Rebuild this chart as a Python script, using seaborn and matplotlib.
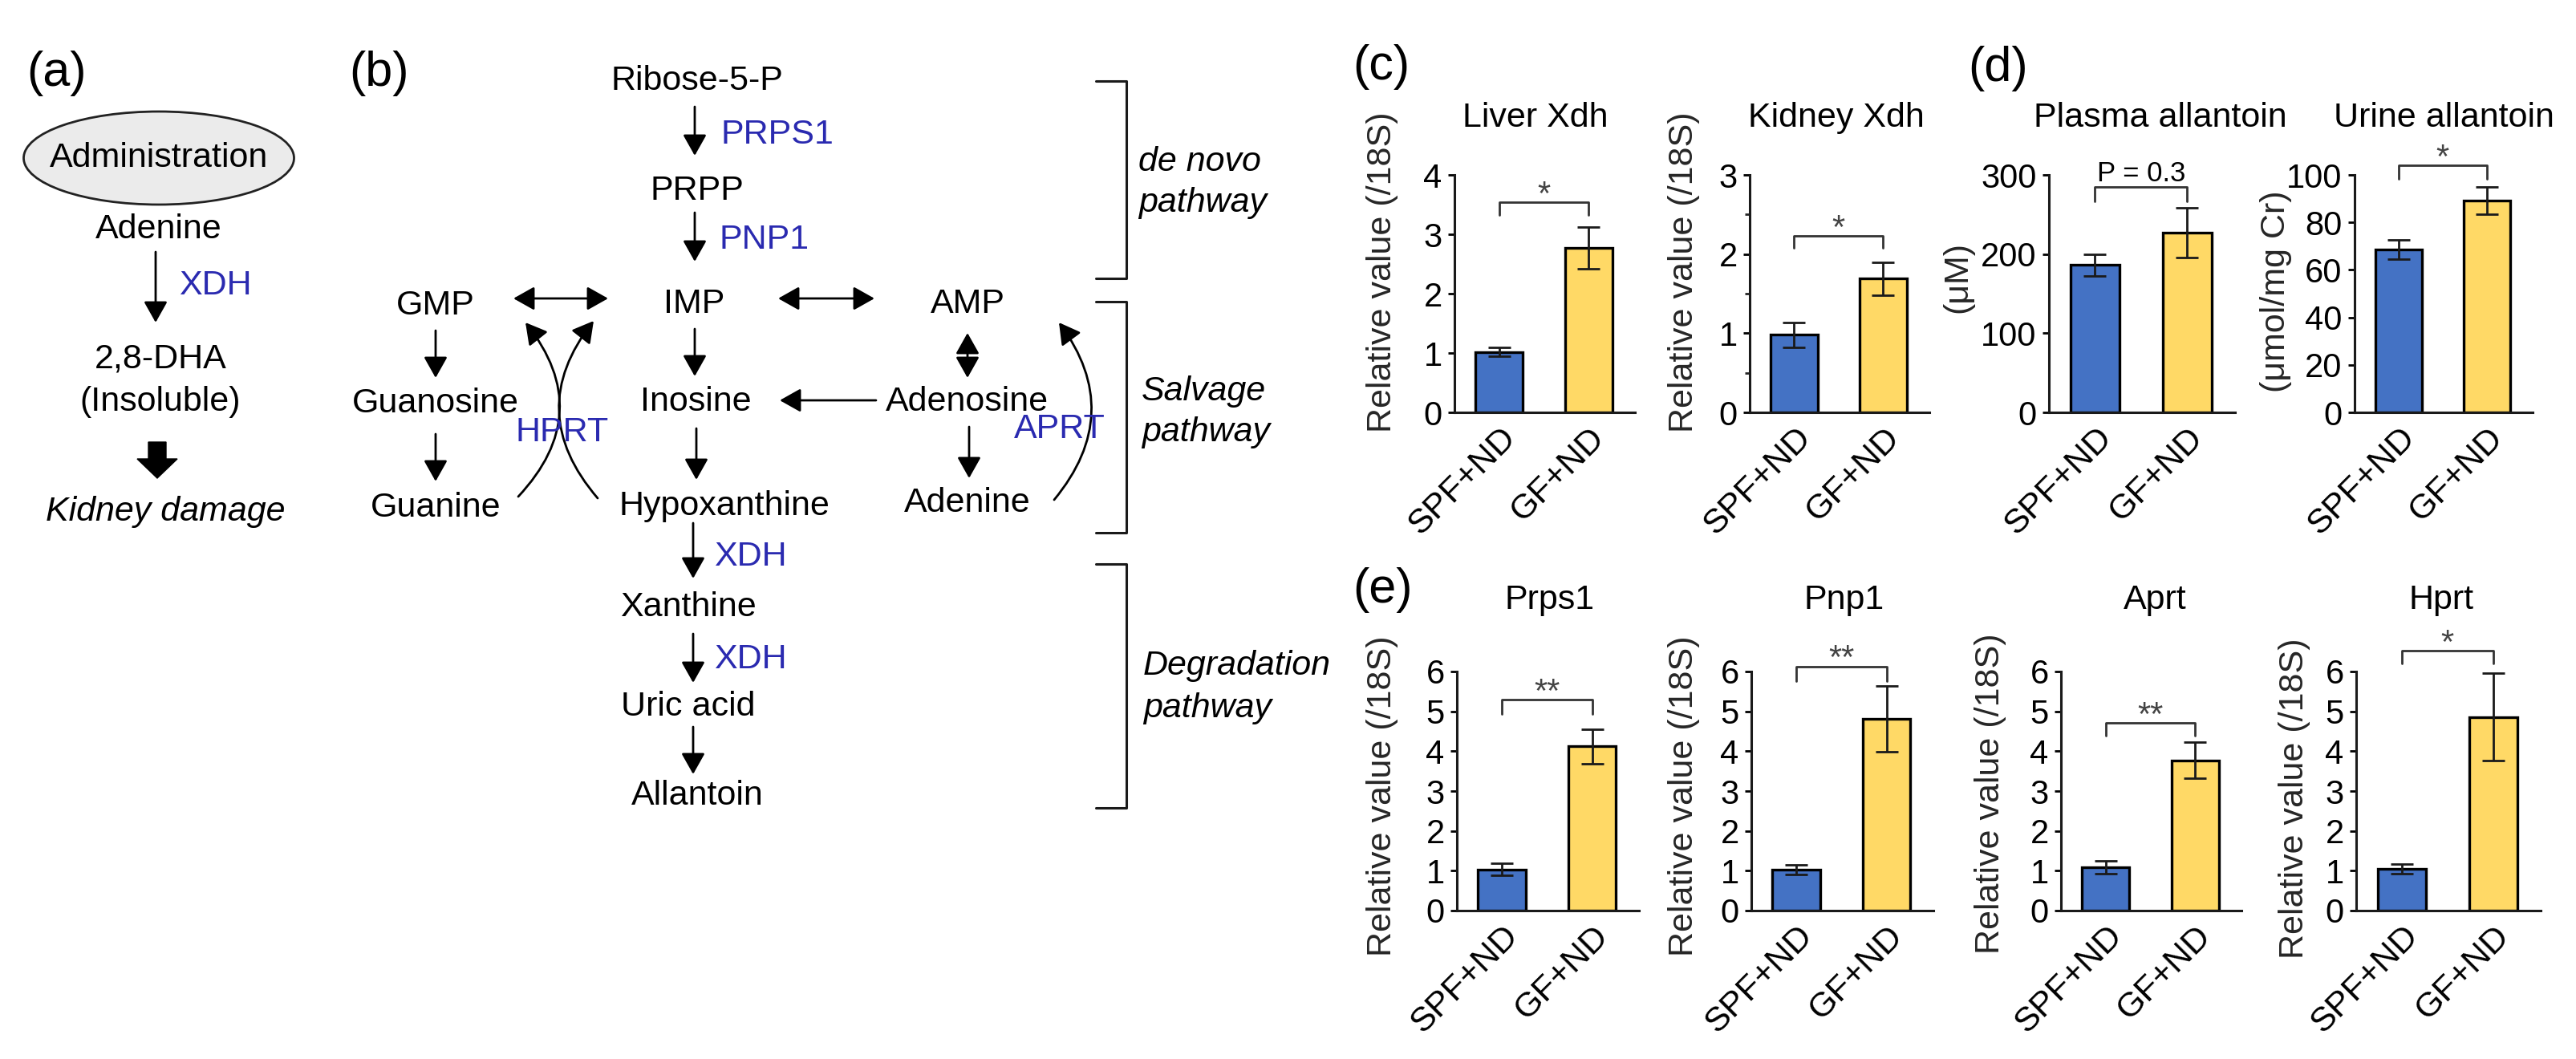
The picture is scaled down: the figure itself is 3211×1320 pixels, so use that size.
import matplotlib
matplotlib.use("Agg")
import matplotlib.pyplot as plt
import seaborn as sns
from matplotlib.patches import Ellipse, FancyArrowPatch, FancyArrow
from matplotlib.ticker import MultipleLocator

# ---- data (mean, SEM) ----
groups = ["SPF+ND", "GF+ND"]
bar_colors = ["#4472C4", "#FFD966"]

liver_xdh_mean = [1.02, 2.77]
liver_xdh_sem = [0.07, 0.35]
kidney_xdh_mean = [0.98, 1.69]
kidney_xdh_sem = [0.16, 0.21]

plasma_allantoin_mean = [186, 227]
plasma_allantoin_sem = [14, 31]
urine_allantoin_mean = [68.5, 89.3]
urine_allantoin_sem = [4.0, 5.7]

prps1_mean = [1.03, 4.12]
prps1_sem = [0.15, 0.43]
pnp1_mean = [1.03, 4.81]
pnp1_sem = [0.12, 0.82]
aprt_mean = [1.08, 3.77]
aprt_sem = [0.16, 0.45]
hprt_mean = [1.04, 4.86]
hprt_sem = [0.12, 1.10]

W, H = 3212, 1320
sns.set_theme(style="ticks")
plt.rcParams["font.family"] = ["Liberation Sans", "DejaVu Sans"]
plt.rcParams["text.color"] = "black"
plt.rcParams["axes.edgecolor"] = "#1a1a1a"

fig = plt.figure(figsize=(W / 100, H / 100), dpi=100)

# ---------------- diagrams (a) and (b), drawn in pixel coordinates ----------------
dg = fig.add_axes([0, 0, 1, 1])
dg.set_xlim(0, W)
dg.set_ylim(H, 0)
dg.axis("off")

FS = 31
BLUE = "#2A2AB0"


def label(x, y, s, ha="center", color="black", style="normal", size=FS):
    dg.text(x, y, s, ha=ha, va="center", color=color, fontsize=size, fontstyle=style)


def arrow(x0, y0, x1, y1, style="-|>", rad=0.0):
    dg.add_patch(FancyArrowPatch(
        (x0, y0), (x1, y1),
        arrowstyle=f"{style},head_length=0.8,head_width=0.45",
        mutation_scale=20, connectionstyle=f"arc3,rad={rad}",
        lw=2, color="black", shrinkA=0, shrinkB=0))


# (a)
dg.add_patch(Ellipse((198, 197), 337, 116, facecolor="#EBEBEB", edgecolor="#222222", lw=2))
label(198, 197, "Administration")
label(198, 286, "Adenine")
arrow(194, 314, 194, 402)
label(223, 356, "XDH", ha="left", color=BLUE)
label(200, 448, "2,8-DHA")
label(200, 501, "(Insoluble)")
dg.add_patch(FancyArrow(196, 551, 0, 45, width=22, head_width=50, head_length=24,
                        length_includes_head=True, color="black"))
label(206, 638, "Kidney damage", style="italic")

# (b)
label(869, 101, "Ribose-5-P")
arrow(866, 133, 866, 194)
label(899, 168, "PRPS1", ha="left", color=BLUE)
label(869, 238, "PRPP")
arrow(866, 265, 866, 326)
label(897, 299, "PNP1", ha="left", color=BLUE)
label(865, 379, "IMP")
label(543, 381, "GMP")
label(1206, 379, "AMP")
arrow(640, 372, 758, 372, style="<|-|>")
arrow(970, 372, 1090, 372, style="<|-|>")
arrow(543, 412, 543, 471)
label(543, 503, "Guanosine")
arrow(543, 541, 543, 600)
label(543, 633, "Guanine")
arrow(866, 410, 866, 469)
label(867, 501, "Inosine")
arrow(1092, 499, 972, 499)
label(1205, 501, "Adenosine")
arrow(1206, 415, 1206, 471, style="<|-|>")
arrow(1208, 532, 1208, 596)
label(1206, 627, "Adenine")
label(903, 631, "Hypoxanthine")
arrow(868, 534, 868, 598)
arrow(646, 619, 655, 402, rad=0.43)
arrow(745, 621, 740, 400, rad=-0.41)
label(701, 539, "HPRT", color=BLUE)
arrow(1314, 623, 1320, 402, rad=0.39)
label(1321, 535, "APRT", color=BLUE)
arrow(864, 652, 864, 721)
label(890, 694, "XDH", ha="left", color=BLUE)
label(858, 757, "Xanthine")
arrow(864, 790, 864, 851)
label(890, 822, "XDH", ha="left", color=BLUE)
label(858, 881, "Uric acid")
arrow(864, 906, 864, 965)
label(869, 992, "Allantoin")

for top, bottom in [(101, 347), (376, 664), (703, 1007)]:
    dg.plot([1366, 1404, 1404, 1366], [top, top, bottom, bottom], color="#1a1a1a", lw=2.2)
label(1419, 202, "de novo", ha="left", style="italic")
label(1419, 253, "pathway", ha="left", style="italic")
label(1423, 488, "Salvage", ha="left", style="italic")
label(1423, 539, "pathway", ha="left", style="italic")
label(1425, 830, "Degradation", ha="left", style="italic")
label(1425, 883, "pathway", ha="left", style="italic")

for s, x, y in [("(a)", 71, 91), ("(b)", 473, 91), ("(c)", 1722, 84),
                ("(d)", 2491, 85), ("(e)", 1724, 735)]:
    label(x, y, s, size=44)

# ---------------- bar charts (c), (d), (e) ----------------
rel = "Relative value (/18S)"
panels = [
    # title, mean, sem, ylabel, ymax, ystep, pixel box, title x, ylabel pos, bracket, mark
    ("Liver Xdh", liver_xdh_mean, liver_xdh_sem, rel, 4, 1, (1813, 2038, 218, 514), 0.45, (-0.40, 0.59), (3.54, 3.33), "*"),
    ("Kidney Xdh", kidney_xdh_mean, kidney_xdh_sem, rel, 3, 1, (2181, 2405, 218, 514), 0.48, (-0.366, 0.59), (2.23, 2.08), "*"),
    ("Plasma allantoin", plasma_allantoin_mean, plasma_allantoin_sem, "(μM)", 300, 100, (2554, 2786, 218, 514), 0.60, (-0.49, 0.57), (285, 267), "P = 0.3"),
    ("Urine allantoin", urine_allantoin_mean, urine_allantoin_sem, "(μmol/mg Cr)", 100, 20, (2935, 3157, 218, 514), 0.50, (-0.44, 0.51), (103.9, 98.2), "*"),
    ("Prps1", prps1_mean, prps1_sem, rel, 6, 1, (1816, 2043, 837, 1135), 0.51, (-0.41, 0.48), (5.30, 4.93), "**"),
    ("Pnp1", pnp1_mean, pnp1_sem, rel, 6, 1, (2183, 2410, 837, 1135), 0.51, (-0.37, 0.48), (6.13, 5.75), "**"),
    ("Aprt", aprt_mean, aprt_sem, rel, 6, 1, (2569, 2794, 837, 1135), 0.52, (-0.39, 0.49), (4.71, 4.38), "**"),
    ("Hprt", hprt_mean, hprt_sem, rel, 6, 1, (2937, 3167, 837, 1135), 0.46, (-0.335, 0.47), (6.52, 6.2), "*"),
]

for title, mean, sem, ylab, ymax, ystep, (x0, x1, y0, y1), tx, (lx, ly), (bh, bl), mark in panels:
    ax = fig.add_axes([x0 / W, 1 - y1 / H, (x1 - x0) / W, (y1 - y0) / H])
    sns.barplot(x=groups, y=mean, hue=groups, palette=bar_colors, dodge=False, width=0.53,
                saturation=1, edgecolor="black", linewidth=2.4, legend=False,
                errorbar=None, ax=ax)
    ax.errorbar([0, 1], mean, yerr=sem, fmt="none", ecolor="#1a1a1a",
                elinewidth=2, capsize=10, capthick=2, zorder=5)
    sns.despine(ax=ax)
    ax.set_xlim(-0.5, 1.52)
    ax.set_ylim(0, ymax)
    ax.yaxis.set_major_locator(MultipleLocator(ystep))
    if title == "Kidney Xdh":
        ax.yaxis.set_minor_locator(MultipleLocator(0.5))
        ax.tick_params(axis="y", which="minor", length=4, width=2)
    for side in ["left", "bottom"]:
        ax.spines[side].set_linewidth(2.2)
    ax.tick_params(axis="y", length=6, width=2, labelsize=30, pad=5, colors="black")
    ax.tick_params(axis="x", length=0, labelsize=31, pad=8, colors="black")
    for t in ax.get_xticklabels():
        t.set_rotation(45)
        t.set_ha("right")
        t.set_rotation_mode("anchor")
    ax.set_xlabel("")
    ax.set_ylabel(ylab, fontsize=31)
    ax.yaxis.label.set_verticalalignment("center")
    ax.yaxis.set_label_coords(lx, ly)
    ax.text(tx, 1.24 if y0 < 500 else 1.30, title, transform=ax.transAxes,
            ha="center", va="center", fontsize=31)

    # significance bracket
    ax.plot([0, 0, 1, 1], [bl, bh, bh, bl], color="#333333", lw=2, clip_on=False)
    if mark.startswith("P"):
        ax.annotate(mark, xy=(0.5, bh), xytext=(0, 5), textcoords="offset points",
                    ha="center", va="baseline", fontsize=25, annotation_clip=False)
    else:
        ax.annotate(mark, xy=(0.5, bh), xytext=(0, -2), textcoords="offset points",
                    ha="center", va="baseline", fontsize=30, color="#444444",
                    annotation_clip=False)

fig.savefig("out.png", dpi=100, facecolor="white")
